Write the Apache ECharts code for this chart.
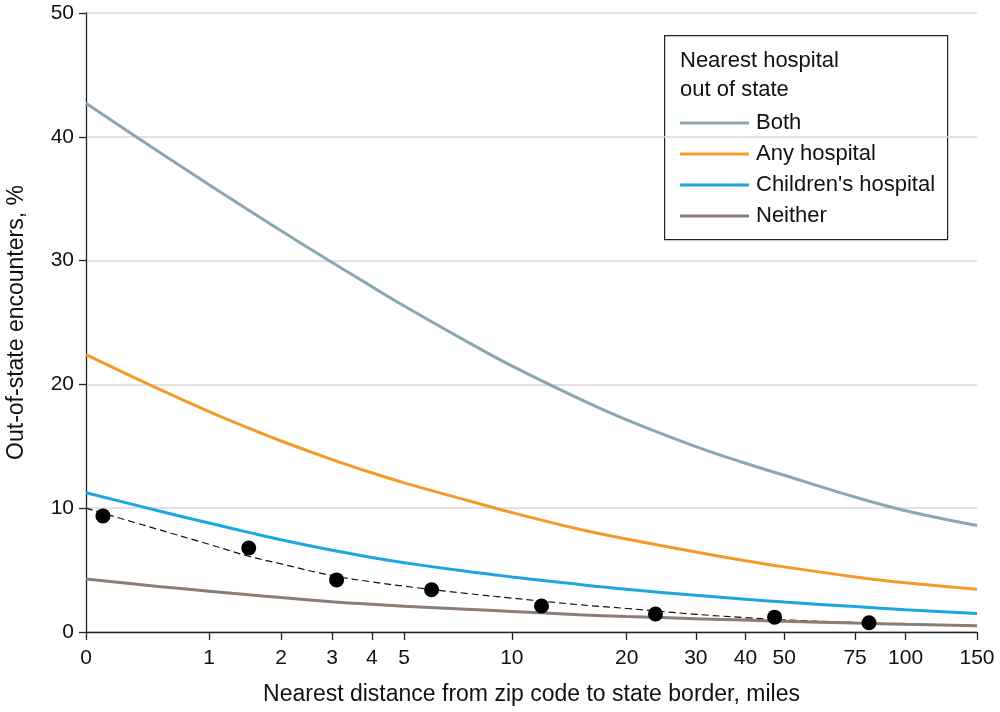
<!DOCTYPE html>
<html>
<head>
<meta charset="utf-8">
<script src="https://cdn.jsdelivr.net/npm/echarts@6/dist/echarts.min.js"></script>
<style>html,body{margin:0;padding:0;background:#fff}#c{width:1000px;height:712px}</style>
</head>
<body>
<div id="c"></div>
<script>
// Distances (miles) at which the model curves were read
const distances = [0, 0.5, 1, 1.5, 2, 3, 4, 5, 7.5, 10, 15, 20, 30, 40, 50, 75, 100, 150];
const both      = [42.7, 38.84, 36.13, 34.06, 32.41, 29.85, 27.9, 26.33, 23.5, 21.49, 18.87, 17.14, 14.98, 13.63, 12.66, 10.9, 9.8, 8.6];
const anyHosp   = [22.4, 19.65, 17.80, 16.46, 15.43, 13.93, 12.86, 12.05, 10.66, 9.65, 8.32, 7.51, 6.46, 5.76, 5.26, 4.45, 3.97, 3.46];
const children  = [11.25, 9.8, 8.8, 8.05, 7.45, 6.6, 6.02, 5.6, 4.9, 4.45, 3.85, 3.45, 2.96, 2.65, 2.42, 2.05, 1.8, 1.5];
const neither   = [4.28, 3.68, 3.3, 3.01, 2.78, 2.45, 2.24, 2.08, 1.84, 1.66, 1.40, 1.25, 1.08, 0.96, 0.87, 0.72, 0.62, 0.5];
const overall   = [10.0, 8.29, 7.08, 6.12, 5.5, 4.55, 4.05, 3.70, 3.12, 2.74, 2.21, 1.9, 1.43, 1.16, 0.98, 0.76, 0.64, 0.52];
// Observed points
const dotDist = [0.1, 1.5, 3.1, 6, 12, 23.7, 47.3, 81.2];
const dotVals = [9.38, 6.78, 4.21, 3.41, 2.1, 1.45, 1.2, 0.75];
// Axis ticks
const xTicks = [0, 1, 2, 3, 4, 5, 10, 20, 30, 40, 50, 75, 100, 150];
const seriesNames = ['Both', 'Any hospital', "Children's hospital", 'Neither'];
const legendTitle = 'Nearest hospital\nout of state';
const xName = 'Nearest distance from zip code to state border, miles';
const yName = 'Out-of-state encounters, %';

const tx = d => Math.log10(d + 1);
const inv = v => Math.round(Math.pow(10, v) - 1);
const pairs = (xs, ys) => xs.map((d, i) => [tx(d), ys[i]]);

const FONT = 'Liberation Sans';
const colors = ['#8AA7B3', '#F39A2B', '#1BA8E0', '#8B7D74'];

const chart = echarts.init(document.getElementById('c'), null, {renderer: 'canvas'});
const curve = (name, ys, color) => ({
  name, type: 'line', data: pairs(distances, ys), smooth: 0.4, symbol: 'none',
  lineStyle: {color, width: 3}, itemStyle: {color}, z: 3
});
chart.setOption({
  animation: false,
  backgroundColor: '#fff',
  textStyle: {fontFamily: FONT},
  grid: {left: 86, right: 23, top: 13, bottom: 80, outerBoundsMode: 'none', containLabel: false},
  xAxis: {
    type: 'value', min: 0, max: tx(150),
    name: xName, nameLocation: 'middle', nameGap: 51,
    nameTextStyle: {fontSize: 23, color: '#111', fontFamily: FONT},
    axisLine: {show: true, lineStyle: {color: '#222', width: 1.3}},
    axisTick: {show: true, length: 8, lineStyle: {color: '#222', width: 1.3}, customValues: xTicks.map(tx)},
    axisLabel: {fontSize: 21, color: '#111', margin: 16, customValues: xTicks.map(tx), formatter: v => String(inv(v)), fontFamily: FONT},
    splitLine: {show: false}
  },
  yAxis: {
    type: 'value', min: 0, max: 50, interval: 10,
    name: yName, nameLocation: 'middle', nameGap: 58, nameRotate: 90,
    nameTextStyle: {fontSize: 23, color: '#111', fontFamily: FONT},
    axisLine: {show: true, lineStyle: {color: '#222', width: 1.3}},
    axisTick: {show: true, length: 7, lineStyle: {color: '#222', width: 1.3}},
    axisLabel: {fontSize: 21, color: '#111', margin: 12, fontFamily: FONT},
    splitLine: {show: true, lineStyle: {color: '#d9d9d9', width: 1.5}}
  },
  legend: {
    data: seriesNames, orient: 'vertical', left: 675, top: 106,
    icon: 'rect', itemWidth: 69, itemHeight: 3, itemGap: 7,
    textStyle: {fontSize: 22, color: '#111', lineHeight: 24, fontFamily: FONT, padding: [0, 0, 0, 2]},
    selectedMode: false
  },
  graphic: [
    {type: 'rect', left: 664, top: 35, shape: {width: 283, height: 204}, style: {fill: '#fff', stroke: '#222', lineWidth: 1.2}, z: 0},
    {type: 'text', left: 680, top: 47, style: {text: legendTitle, fontSize: 22, lineHeight: 28.5, fill: '#111', fontFamily: FONT}, z: 5}
  ],
  series: [
    {name: 'Overall fit', type: 'line', data: pairs(distances, overall), smooth: 0.4, symbol: 'none',
     lineStyle: {color: '#111', width: 1.2, type: [7, 4]}, z: 2},
    curve(seriesNames[0], both, colors[0]),
    curve(seriesNames[1], anyHosp, colors[1]),
    curve(seriesNames[2], children, colors[2]),
    curve(seriesNames[3], neither, colors[3]),
    {name: 'Observed', type: 'scatter', data: pairs(dotDist, dotVals), symbol: 'circle', symbolSize: 15,
     itemStyle: {color: '#000', opacity: 1}, z: 4}
  ]
});
</script>
</body>
</html>
